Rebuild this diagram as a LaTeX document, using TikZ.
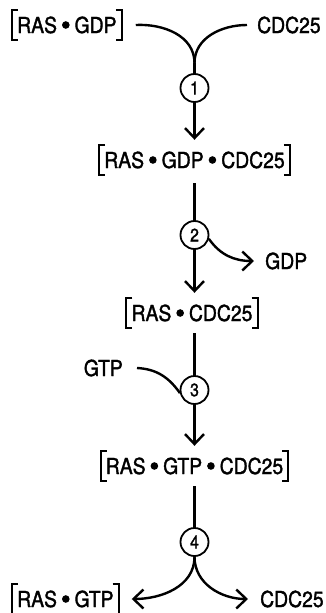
\documentclass[tikz,border=0pt]{standalone}
\usepackage{fontspec}
\setmainfont[FakeStretch=0.88,FakeBold=1.5]{TeX Gyre Heros}
\usetikzlibrary{arrows.meta}

% filled dot separating the partners of a complex
\newcommand\pdot{\hspace{5pt}\raisebox{4.2pt}{\tikz\fill (0pt,0pt) circle[radius=3.8pt];}\hspace{5pt}}
% square brackets drawn on the borders of a complex node
\newcommand\brk[1]{%
  \draw[bk] ([xshift=6pt]#1.north west) -- (#1.north west) -- (#1.south west) -- ([xshift=6pt]#1.south west);
  \draw[bk] ([xshift=-6pt]#1.north east) -- (#1.north east) -- (#1.south east) -- ([xshift=-6pt]#1.south east);}

\begin{document}
\begin{tikzpicture}[x=1pt,y=1pt,
  txt/.style={font=\fontsize{22}{26}\selectfont, inner sep=0pt},
  cplx/.style={txt, inner xsep=5pt, inner ysep=7pt, text height=16pt, text depth=0pt},
  bk/.style={line width=2pt},
  ln/.style={line width=2.4pt},
  arr/.style={ln, -{Straight Barb[length=10pt,width=19pt]}},
  stepcirc/.style={circle, draw, line width=1.8pt, minimum size=28pt, inner sep=0pt,
    font=\fontsize{18}{21}\selectfont}]
\useasboundingbox (0,0) rectangle (325,-613);

% species
\node[cplx, anchor=west] (n0) at (12,-25) {RAS\pdot GDP};
\node[txt, anchor=west] (t0) at (257,-25) {CDC25};
\node[cplx] (n1) at (194.5,-160) {RAS\pdot GDP\pdot CDC25};
\node[txt, anchor=west] (t1) at (265,-261) {GDP};
\node[cplx] (n2) at (192,-313) {RAS\pdot CDC25};
\node[txt, anchor=east] (t2) at (123,-368) {GTP};
\node[cplx] (n3) at (194.5,-466) {RAS\pdot GTP\pdot CDC25};
\node[cplx, anchor=west] (n4) at (12,-599) {RAS\pdot GTP};
\node[txt, anchor=west] (t3) at (260,-599) {CDC25};
\brk{n0}\brk{n1}\brk{n2}\brk{n3}\brk{n4}

% reaction steps
\node[stepcirc] (c1) at (194.5,-88) {1};
\node[stepcirc] (c2) at (194.5,-235) {2};
\node[stepcirc] (c3) at (194.5,-390) {3};
\node[stepcirc] (c4) at (194.5,-542) {4};

% step 1: association
\coordinate (j1) at (194.5,-63);
\draw[ln] ([xshift=14pt]n0.east) to[out=3,in=90] (j1);
\draw[ln] ([xshift=-10pt]t0.west) to[out=180,in=90] (j1);
\draw[ln] (j1) -- (c1.north);
\draw[arr] (c1.south) -- ([yshift=5pt]n1.north);

% step 2: GDP release
\draw[ln] ([yshift=-8pt]n1.south) -- (c2.north);
\draw[arr] (c2.south) -- ([yshift=5pt]n2.north -| c2);
\draw[arr] (c2.-15) to[out=-55,in=180] ([xshift=-11pt]t1.west);

% step 3: GTP binding
\draw[ln] ([yshift=-5pt]n2.south -| c2) -- (c3.north);
\draw[ln] ([xshift=14pt]t2.east) to[out=-3,in=125] (c3.192);
\draw[arr] (c3.south) -- ([yshift=5pt]n3.north);

% step 4: dissociation
\draw[ln] ([yshift=-5pt]n3.south) -- (c4.north);
\draw[arr] (c4.south) to[out=-90,in=0] ([xshift=13pt]n4.east);
\draw[arr] (c4.south) to[out=-90,in=180] ([xshift=-12pt]t3.west);
\end{tikzpicture}
\end{document}
